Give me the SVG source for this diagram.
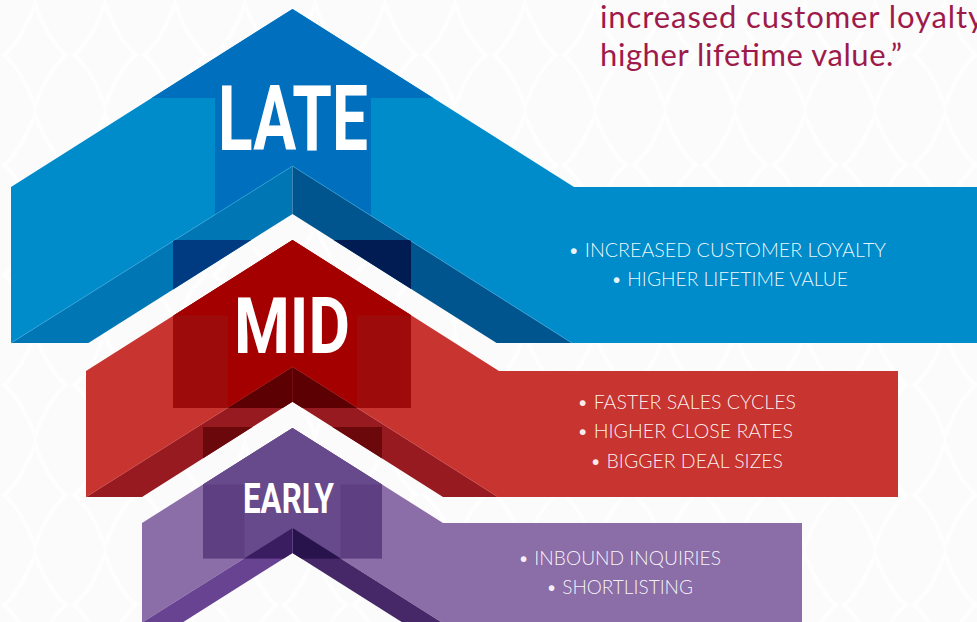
<svg xmlns="http://www.w3.org/2000/svg" width="977" height="622" viewBox="0 0 977 622">
  <style>
    .stage-label { font-family: Roboto, "Liberation Sans", sans-serif; font-weight: 700; fill: #ffffff; }
    .bullet { font-family: Lato, "Open Sans", "Liberation Sans", sans-serif; font-weight: 300; font-size: 19.5px; fill: #ffffff; fill-opacity: 0.93; }
    .quote { font-family: Lato, "Open Sans", "Liberation Sans", sans-serif; font-size: 31px; fill: #9e1a4a; }
    .edge { fill: none; stroke-width: 1; }
  </style>
  <defs>
    <pattern id="bgDiamonds" width="70" height="110" patternUnits="userSpaceOnUse">
      <path d="M35 4 Q48 40 66 55 Q48 70 35 106 Q22 70 4 55 Q22 40 35 4 Z" fill="none" stroke="#ffffff" stroke-width="4"/>
    </pattern>
    <!-- bevel areas under each chevron, used to clip the darker overlap bands -->
    <clipPath id="lateBevelL"><polygon points="292.5,166 292.5,214 88.4,343 11,343"/></clipPath>
    <clipPath id="lateBevelR"><polygon points="292.5,166 572,343 496.6,343 292.5,214"/></clipPath>
    <clipPath id="midBody"><polygon points="292.5,240 499,371 898,371 898,497 498,497 292.5,367 86,497 86,371"/></clipPath>
    <clipPath id="midBevel"><polygon points="292.5,367 498,497 443,497 292.5,401.7 142,497 86,497"/></clipPath>
    <clipPath id="earlyBody"><polygon points="292.5,428 443,523 802,523 802,622 441,622 292.5,528 143,622 142,622 142,523"/></clipPath>
    <clipPath id="earlyBevelL"><polygon points="292.5,528 292.5,553 183.3,622 143,622"/></clipPath>
    <clipPath id="earlyBevelR"><polygon points="292.5,528 441,622 401.7,622 292.5,553"/></clipPath>
  </defs>

  <!-- backdrop -->
  <rect width="977" height="622" fill="#fbfbfb"/>
  <rect width="977" height="622" fill="url(#bgDiamonds)" opacity="0.8"/>

  <!-- quote fragment -->
  <g id="quote">
    <text class="quote" x="600" y="28" textLength="384" lengthAdjust="spacing">increased customer loyalty</text>
    <text class="quote" x="600" y="66" textLength="302" lengthAdjust="spacing">higher lifetime value.”</text>
  </g>

  <!-- LATE stage -->
  <g id="stage-late">
    <polygon points="292.5,9 574,187 977,187 977,343 572,343 292.5,166 11,343 11,187" fill="#008ccb"/>
    <polygon points="292.5,9 433.3,98 371,98 371,215.6 292.5,166 215,215 215,98 151.7,98" fill="#006fbd"/>
    <polygon points="292.5,166 292.5,214 88.4,343 11,343" fill="#0076b4"/>
    <polygon points="292.5,166 572,343 496.6,343 292.5,214" fill="#00558f"/>
    <polyline class="edge" points="11,343 292.5,166 572,343" stroke="#35a8e0" stroke-opacity="0.7"/>
    <!-- shadow of the middle stage falling on the bevel -->
    <rect x="173" y="240" width="119.5" height="110" fill="#003a80" clip-path="url(#lateBevelL)"/>
    <rect x="292.5" y="240" width="118.5" height="110" fill="#001c52" clip-path="url(#lateBevelR)"/>
    <text class="stage-label" x="218" y="150" font-size="91" textLength="150" lengthAdjust="spacingAndGlyphs">LATE</text>
    <text class="bullet" x="568" y="257" textLength="318" lengthAdjust="spacingAndGlyphs">• INCREASED CUSTOMER LOYALTY</text>
    <text class="bullet" x="611" y="286" textLength="237" lengthAdjust="spacingAndGlyphs">• HIGHER LIFETIME VALUE</text>
  </g>

  <!-- MID stage -->
  <g id="stage-mid">
    <polygon points="292.5,240 499,371 898,371 898,497 498,497 292.5,367 86,497 86,371" fill="#c8342f"/>
    <rect x="173" y="240" width="238" height="168" fill="#9e0b0b" clip-path="url(#midBody)"/>
    <polygon points="292.5,240 411.5,315.5 357,315.5 357,407.8 292.5,367 228,407.8 228,315.5 173.5,315.5" fill="#a50000"/>
    <polygon points="292.5,367 498,497 443,497 292.5,401.7 142,497 86,497" fill="#961a1f"/>
    <polyline class="edge" points="86,497 292.5,367 498,497" stroke="#d9504b" stroke-opacity="0.5"/>
    <rect x="173" y="360" width="238" height="48" fill="#5c0003" clip-path="url(#midBevel)"/>
    <rect x="203" y="427" width="179" height="80" fill="#6b080c" clip-path="url(#midBevel)"/>
    <line x1="292.5" y1="367" x2="292.5" y2="401.7" stroke="#7a1015" stroke-width="0.8"/>
    <text class="stage-label" x="234" y="353" font-size="78" textLength="116" lengthAdjust="spacingAndGlyphs">MID</text>
    <text class="bullet" x="577" y="409" textLength="219" lengthAdjust="spacingAndGlyphs">• FASTER SALES CYCLES</text>
    <text class="bullet" x="577" y="438" textLength="216" lengthAdjust="spacingAndGlyphs">• HIGHER CLOSE RATES</text>
    <text class="bullet" x="590" y="468" textLength="193" lengthAdjust="spacingAndGlyphs">• BIGGER DEAL SIZES</text>
  </g>

  <!-- EARLY stage -->
  <g id="stage-early">
    <polygon points="292.5,428 443,523 802,523 802,622 441,622 292.5,528 143,622 142,622 142,523" fill="#8b6da8"/>
    <rect x="203" y="428" width="179" height="130.6" fill="#5e3f82" clip-path="url(#earlyBody)"/>
    <polygon points="292.5,428 382,484.6 340.5,484.6 340.5,558.6 292.5,528 244.5,558.6 244.5,484.6 203,484.6" fill="#674a8b"/>
    <polygon points="292.5,528 292.5,553 183.3,622 143,622" fill="#674391"/>
    <polygon points="292.5,528 441,622 401.7,622 292.5,553" fill="#462869"/>
    <rect x="203" y="520" width="89.5" height="38.6" fill="#3a1d60" clip-path="url(#earlyBevelL)"/>
    <rect x="292.5" y="520" width="89.5" height="38.6" fill="#28134c" clip-path="url(#earlyBevelR)"/>
    <text class="stage-label" x="243" y="513" font-size="42" textLength="91" lengthAdjust="spacingAndGlyphs">EARLY</text>
    <text class="bullet" x="518" y="565" textLength="203" lengthAdjust="spacingAndGlyphs">• INBOUND INQUIRIES</text>
    <text class="bullet" x="546" y="594" textLength="147" lengthAdjust="spacingAndGlyphs">• SHORTLISTING</text>
  </g>
</svg>
